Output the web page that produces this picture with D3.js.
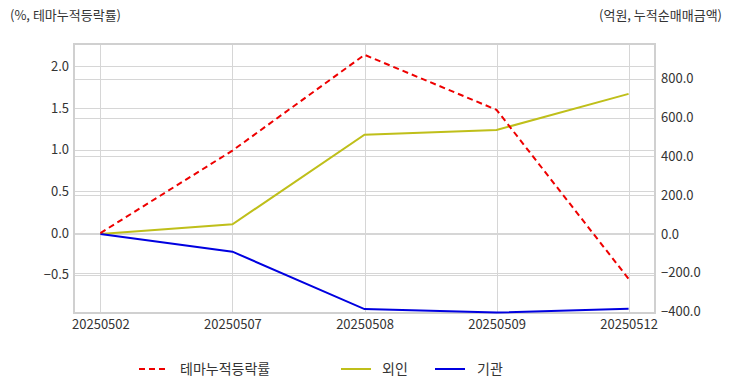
<!DOCTYPE html>
<html><head><meta charset="utf-8">
<script src="https://cdn.jsdelivr.net/npm/d3@7"></script>
<style>
html,body{margin:0;padding:0;background:#fff;}
text{font-family:"Noto Sans CJK KR","Noto Sans",sans-serif;}
</style></head>
<body><svg id="c" width="732" height="392"></svg>
<script>
const dates = ["20250502","20250507","20250508","20250509","20250512"];
const themeRate = [0.0, 0.99, 2.14, 1.48, -0.55];
const foreign = [0, 50, 512, 536, 722];
const institution = [0, -91, -387, -405, -385];
const leftTicks = [-0.5, 0.0, 0.5, 1.0, 1.5, 2.0];
const rightTicks = [-400, -200, 0, 200, 400, 600, 800];
const seriesNames = ["테마누적등락률", "외인", "기관"];
const leftTitle = "(%, 테마누적등락률)";
const rightTitle = "(억원, 누적순매매금액)";

const svg = d3.select("#c");
const L = 74, R = 655, T = 44, B = 313;
const x = d3.scalePoint().domain(dates).range([L, R]).padding(0.2);
const yL = d3.scaleLinear().domain([-0.96, 2.27]).range([B, T]);
const yR = d3.scaleLinear().domain([-407, 979]).range([B, T]);

const grid = svg.append("g").attr("stroke", "#d6d6d6").attr("stroke-width", 1);
leftTicks.forEach(v => grid.append("line").attr("x1", L).attr("x2", R)
  .attr("y1", Math.round(yL(v)) + 0.5).attr("y2", Math.round(yL(v)) + 0.5));
rightTicks.forEach(v => grid.append("line").attr("x1", L).attr("x2", R)
  .attr("y1", Math.round(yR(v)) + 0.5).attr("y2", Math.round(yR(v)) + 0.5));
dates.forEach(d => grid.append("line").attr("y1", T).attr("y2", B)
  .attr("x1", Math.round(x(d)) + 0.5).attr("x2", Math.round(x(d)) + 0.5));

svg.append("rect").attr("x", L).attr("y", T).attr("width", R - L).attr("height", B - T)
  .attr("fill", "none").attr("stroke", "#d0d0d0").attr("stroke-width", 2);

// axes
const axL = svg.append("g").attr("transform", `translate(${L},0)`)
  .call(d3.axisLeft(yL).tickValues(leftTicks).tickFormat(d3.format(".1f")).tickSize(0).tickPadding(5));
const axR = svg.append("g").attr("transform", `translate(${R},0)`)
  .call(d3.axisRight(yR).tickValues(rightTicks).tickFormat(d3.format(".1f")).tickSize(0).tickPadding(6));
const axX = svg.append("g").attr("transform", `translate(0,${B})`)
  .call(d3.axisBottom(x).tickSize(0).tickPadding(7));
[axL, axR, axX].forEach(a => {
  a.select(".domain").remove();
  a.selectAll("text").attr("font-size", 13).attr("fill", "#333")
    .style("font-family", "'Noto Sans CJK KR', sans-serif");
});

const line = (ys, vals) => d3.line().x((d, i) => x(dates[i])).y(d => ys(d))(vals);
svg.append("path").attr("d", line(yR, foreign)).attr("fill", "none")
  .attr("stroke", "#bfbf1a").attr("stroke-width", 2);
svg.append("path").attr("d", line(yR, institution)).attr("fill", "none")
  .attr("stroke", "#0000e0").attr("stroke-width", 2);
svg.append("path").attr("d", line(yL, themeRate)).attr("fill", "none")
  .attr("stroke", "#ee0000").attr("stroke-width", 2).attr("stroke-dasharray", "6,4");

svg.append("text").attr("x", 10).attr("y", 20).attr("font-size", 13).attr("fill", "#333").text(leftTitle);
svg.append("text").attr("x", 722).attr("y", 20).attr("text-anchor", "end").attr("font-size", 13).attr("fill", "#333").text(rightTitle);

// legend
const legend = [
  {name: seriesNames[0], color: "#ee0000", dash: "6,4", x1: 139, x2: 167, tx: 180},
  {name: seriesNames[1], color: "#bfbf1a", dash: null, x1: 341, x2: 371, tx: 382},
  {name: seriesNames[2], color: "#0000e0", dash: null, x1: 435, x2: 465, tx: 477}
];
legend.forEach(l => {
  svg.append("line").attr("x1", l.x1).attr("x2", l.x2).attr("y1", 369).attr("y2", 369)
    .attr("stroke", l.color).attr("stroke-width", 2).attr("stroke-dasharray", l.dash);
  svg.append("text").attr("x", l.tx).attr("y", 374).attr("font-size", 14).attr("fill", "#333").text(l.name);
});
</script></body></html>
